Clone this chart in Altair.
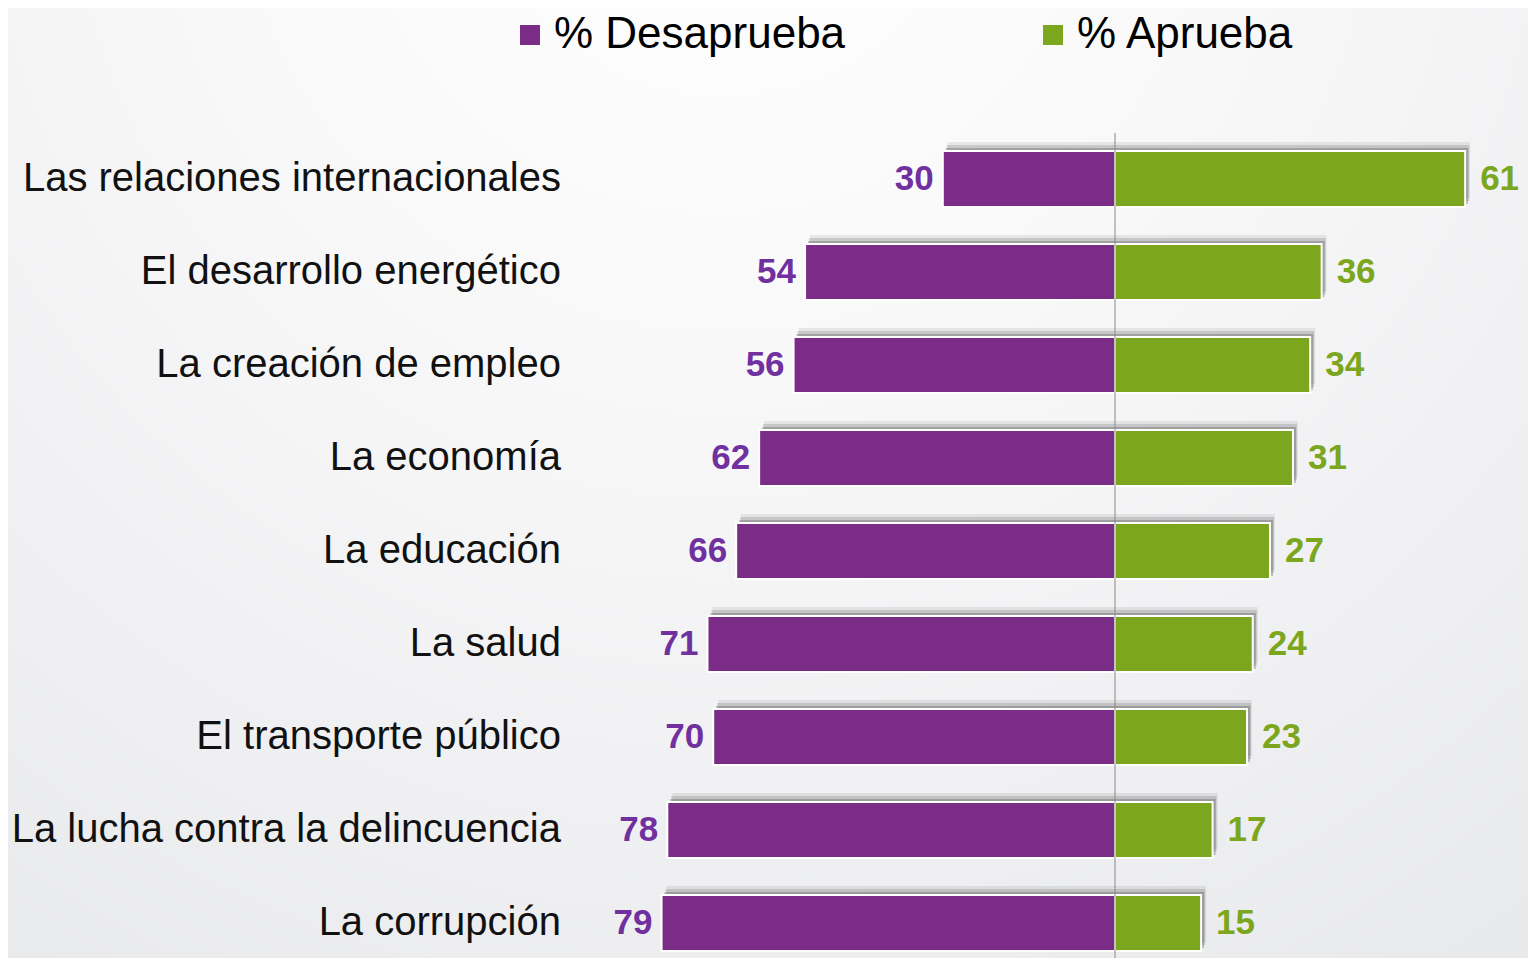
import altair as alt
import pandas as pd

categorias = [
    "Las relaciones internacionales",
    "El desarrollo energético",
    "La creación de empleo",
    "La economía",
    "La educación",
    "La salud",
    "El transporte público",
    "La lucha contra la delincuencia",
    "La corrupción",
]
desaprueba = [30, 54, 56, 62, 66, 71, 70, 78, 79]
aprueba = [61, 36, 34, 31, 27, 24, 23, 17, 15]
series = ["% Desaprueba", "% Aprueba"]
colores_barra = ["#7B2C87", "#7BA61E"]
colores_texto = ["#7030A0", "#7BA61E"]

rows = []
for c, d, a in zip(categorias, desaprueba, aprueba):
    rows.append({"cat": c, "serie": series[0], "valor": d, "x": -d})
    rows.append({"cat": c, "serie": series[1], "valor": a, "x": a})
df = pd.DataFrame(rows)
df["cero"] = 0
df_cat = pd.DataFrame({"cat": categorias})
df_des = df[df.serie == series[0]]
df_apr = df[df.serie == series[1]]

W, H = 1520, 950
xscale = alt.Scale(domain=[-192.86, 71.95], nice=False, zero=False)
yscale = alt.Scale(domain=categorias, range=[124.5, 961.5], paddingInner=0.398, paddingOuter=0.199)
X = alt.X("x:Q", scale=xscale, axis=None)
X2 = alt.X2("cero:Q")
Y = alt.Y("cat:N", scale=yscale, axis=None)

bg = alt.Chart(df_cat.head(1)).mark_rect(
    fill={
        "gradient": "radial",
        "x1": 0.47, "y1": 0.08, "r1": 0,
        "x2": 0.47, "y2": 0.08, "r2": 0.9,
        "stops": [
            {"offset": 0, "color": "#ffffff"},
            {"offset": 0.35, "color": "#f9f9fa"},
            {"offset": 1, "color": "#e8e9eb"},
        ],
    }
).encode(x=alt.value(0), x2=alt.value(W), y=alt.value(0), y2=alt.value(H))

shadow0 = alt.Chart(df).mark_bar(color="#444444", opacity=0.1, xOffset=5, yOffset=-9).encode(
    x=X, x2=X2, y=Y)
shadow1 = alt.Chart(df).mark_bar(color="#444444", opacity=0.18, xOffset=4, yOffset=-6).encode(
    x=X, x2=X2, y=Y)
shadow2 = alt.Chart(df).mark_bar(color="#444444", opacity=0.3, xOffset=3, yOffset=-3).encode(
    x=X, x2=X2, y=Y)

bars = alt.Chart(df).mark_bar(stroke="white", strokeWidth=2).encode(
    x=X, x2=X2, y=Y,
    color=alt.Color(
        "serie:N",
        scale=alt.Scale(domain=series, range=colores_barra),
        legend=alt.Legend(
            title=None, orient="none", direction="horizontal",
            legendX=500, legendY=5,
            symbolType="square", symbolSize=400, symbolStrokeWidth=0,
            labelFontSize=44, labelFont="Liberation Sans", labelColor="#000000",
            labelOffset=2, columnPadding=185, labelLimit=500,
        ),
    ),
)

rule = alt.Chart(df_des.head(1)).mark_rule(color="#888888", strokeWidth=1).encode(
    x=alt.X("cero:Q", scale=xscale, axis=None), y=alt.value(125), y2=alt.value(H))

lab_des = alt.Chart(df_des).mark_text(
    align="right", baseline="middle", dx=-9, font="Liberation Sans",
    fontWeight="bold", fontSize=35, color=colores_texto[0]
).encode(x=X, y=Y, text="valor:Q")

lab_apr = alt.Chart(df_apr).mark_text(
    align="left", baseline="middle", dx=15, font="Liberation Sans",
    fontWeight="bold", fontSize=35, color=colores_texto[1]
).encode(x=X, y=Y, text="valor:Q")

lab_cat = alt.Chart(df_cat).mark_text(
    align="right", baseline="middle", font="Liberation Sans", fontSize=40, color="#111111"
).encode(x=alt.value(553), y=Y, text="cat:N")

chart = alt.layer(bg, shadow0, shadow1, shadow2, bars, rule, lab_des, lab_apr, lab_cat).properties(
    width=W, height=H, padding=0, autosize=alt.AutoSizeParams(type="none")
).configure_view(stroke=None, fill="#eeeff0")

chart.save("out.html", embed_options={"renderer": "svg", "actions": False})
